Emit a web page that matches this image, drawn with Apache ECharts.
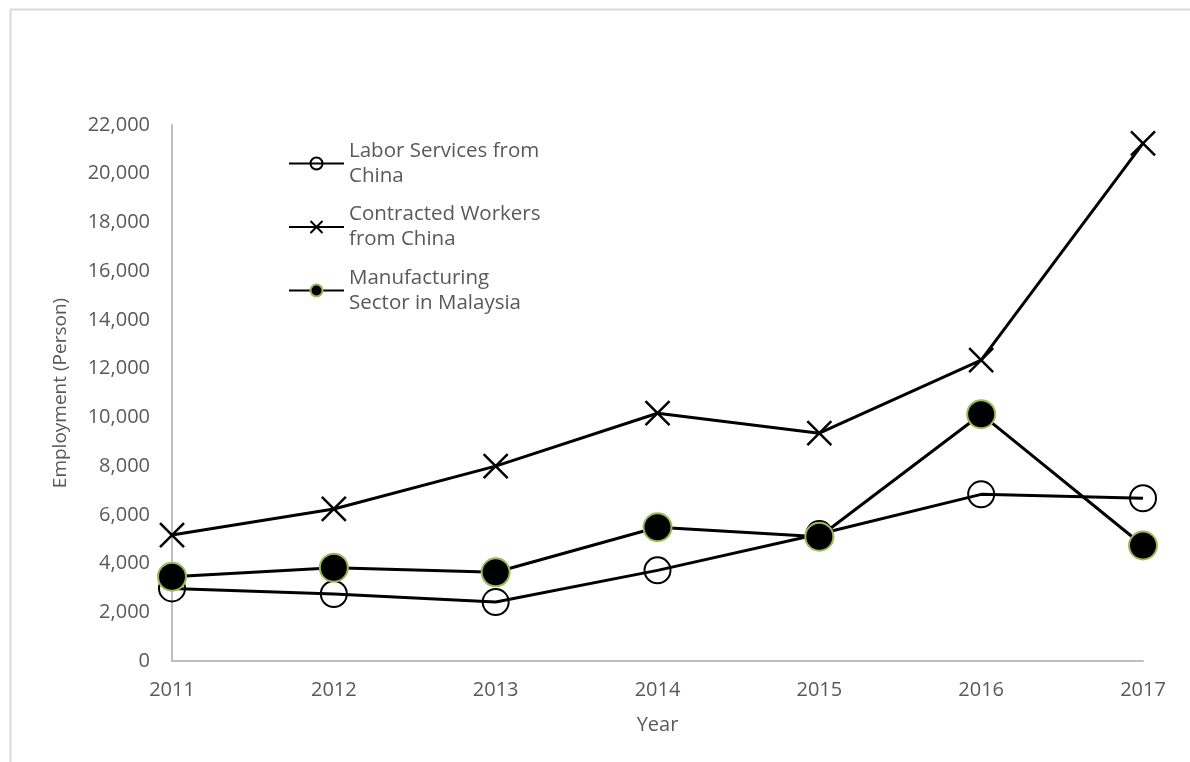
<!DOCTYPE html>
<html>
<head>
<meta charset="utf-8">
<script src="https://cdn.jsdelivr.net/npm/echarts@6/dist/echarts.min.js"></script>
<style>
  html, body { margin: 0; padding: 0; background: #fff; }
  #main { width: 1190px; height: 762px; }
</style>
</head>
<body>
<div id="main"></div>
<script>
// data
var years = ['2011', '2012', '2013', '2014', '2015', '2016', '2017'];
var laborServices = [2980, 2750, 2420, 3720, 5210, 6840, 6680];
var contractedWorkers = [5170, 6240, 8000, 10170, 9350, 12350, 21250];
var manufacturing = [3460, 3830, 3640, 5490, 5100, 10130, 4740];
var seriesNames = ['Labor Services from\nChina', 'Contracted Workers\nfrom China', 'Manufacturing\nSector in Malaysia'];

var grey = '#595959';
var font = 'Open Sans';
var crossPath = 'path://M0,0L10,10M10,0L0,10';

function fmt(v) {
    return String(v).replace(/\B(?=(\d{3})+(?!\d))/g, ',');
}

var chart = echarts.init(document.getElementById('main'));
chart.setOption({
    backgroundColor: '#fff',
    animation: false,
    graphic: [{
        type: 'rect',
        left: 8, top: 7,
        shape: { width: 1300, height: 900 },
        style: { fill: 'none', stroke: '#d9d9d9', lineWidth: 2 },
        silent: true
    }],
    grid: { left: 172, right: 47, top: 125, bottom: 101 },
    legend: {
        orient: 'vertical',
        left: 283,
        top: 121,
        itemWidth: 55,
        itemHeight: 15,
        itemGap: -11.5,
        textStyle: { color: grey, fontFamily: font, fontSize: 20.5, lineHeight: 25, padding: [25, 0, 0, 0] },
        data: seriesNames
    },
    xAxis: {
        type: 'category',
        data: years,
        boundaryGap: false,
        name: 'Year',
        nameLocation: 'middle',
        nameGap: 54,
        nameTextStyle: { color: grey, fontFamily: font, fontSize: 20 },
        axisLine: { lineStyle: { color: '#bfbfbf', width: 2 } },
        axisTick: { show: false },
        axisLabel: { color: grey, fontFamily: font, fontSize: 20, margin: 19 }
    },
    yAxis: {
        type: 'value',
        min: 0,
        max: 22000,
        interval: 2000,
        name: 'Employment (Person)',
        nameLocation: 'middle',
        nameGap: 102,
        nameTextStyle: { color: grey, fontFamily: font, fontSize: 19 },
        axisLine: { show: true, lineStyle: { color: '#bfbfbf', width: 2 } },
        axisTick: { show: false },
        splitLine: { show: false },
        axisLabel: { color: grey, fontFamily: font, fontSize: 20, margin: 22, formatter: fmt }
    },
    series: [{
        name: seriesNames[0],
        type: 'line',
        data: laborServices,
        symbol: 'circle',
        symbolSize: 26,
        lineStyle: { color: '#000', width: 3 },
        itemStyle: { color: 'none', borderColor: '#000', borderWidth: 2 }
    }, {
        name: seriesNames[1],
        type: 'line',
        data: contractedWorkers,
        symbol: crossPath,
        symbolSize: 24,
        lineStyle: { color: '#000', width: 3 },
        itemStyle: { color: 'none', borderColor: '#000', borderWidth: 2.5 }
    }, {
        name: seriesNames[2],
        type: 'line',
        data: manufacturing,
        symbol: 'circle',
        symbolSize: 28,
        lineStyle: { color: '#000', width: 3 },
        itemStyle: { color: '#000', borderColor: '#9bbb59', borderWidth: 2 }
    }]
});
</script>
</body>
</html>
